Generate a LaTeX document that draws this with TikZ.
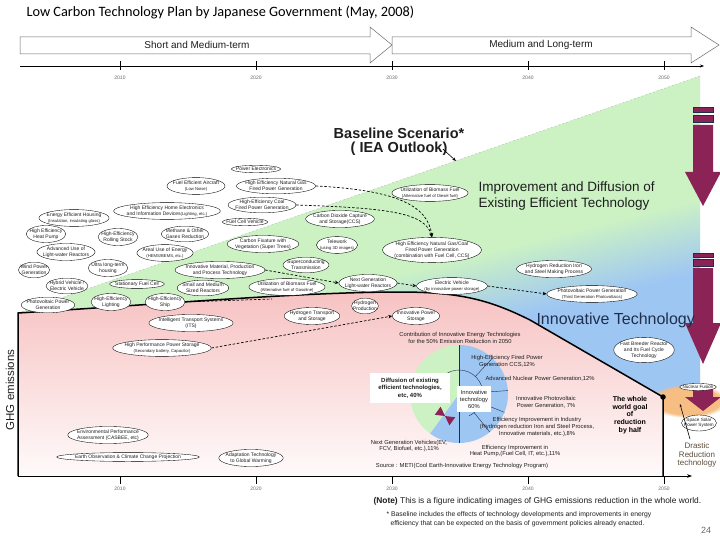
\documentclass[tikz,border=0pt]{standalone}
\usepackage{fontspec}
\setmainfont{Liberation Sans}
\newfontfamily\calibrilike{Carlito}
\usepackage{tikz}
\usetikzlibrary{shapes.geometric, arrows.meta, positioning, fadings}
\definecolor{LCGreen}{RGB}{204, 242, 196}
\definecolor{LCBlue}{RGB}{158, 198, 243}
\definecolor{LCPink}{RGB}{247, 194, 194}
\definecolor{LCMaroon}{RGB}{139, 35, 86}
\definecolor{LCOrange}{RGB}{247, 190, 132}
\definecolor{LCText}{RGB}{30, 30, 30}
\definecolor{LCGray}{RGB}{105, 105, 105}
\definecolor{LCNavy}{RGB}{32, 46, 78}
\definecolor{LCBrown}{RGB}{95, 78, 60}
\pgfdeclareverticalshading{LCGreenBlue}{100bp}{color(0bp)=(LCBlue); color(48.5bp)=(LCBlue); color(51.5bp)=(LCGreen); color(100bp)=(LCGreen)}
\newcommand{\lcsmall}{\fontsize{4.2}{5}\selectfont}

\begin{document}
\begin{tikzpicture}[x=1pt, y=-1pt,
  tech/.style={ellipse, draw=black, line width=0.35pt, fill=white, inner xsep=-2.5pt, inner ysep=0.8pt, align=center, text=LCText, font=\fontsize{5}{5.8}\selectfont},
  link/.style={line width=0.7pt, dash pattern=on 2.5pt off 1.8pt, -{Stealth[length=4pt, width=3.5pt]}},
  period/.style={fill=white, draw=LCGray, line width=0.5pt},
  yearlbl/.style={font=\fontsize{5}{6}\selectfont, text=LCGray},
  pielbl/.style={font=\fontsize{5.8}{6.8}\selectfont, text=LCText, align=center},
  whitebox/.style={fill=white, inner sep=1pt, align=center, text=LCText}]
  \path[use as bounding box] (0,0) rectangle (720,540);
  \fill[white] (0,0) rectangle (720,540);

  % title and the two periods
  \node[anchor=west, font=\calibrilike\fontsize{14.3}{16}\selectfont] (title) at (23,13) {Low Carbon Technology Plan by Japanese Government (May, 2008)};
  \draw[period] (20,37) -- (370,37) -- (370,27) -- (392,45) -- (370,63) -- (370,54) -- (20,54) -- cycle;
  \draw[period] (392,37) -- (691,37) -- (691,27) -- (719,45) -- (691,63) -- (691,54) -- (392,54) -- cycle;
  \node[font=\fontsize{10}{11}\selectfont, text=LCText] (shortterm) at (197,45) {Short and Medium-term};
  \node[font=\fontsize{10}{11}\selectfont, text=LCText] (longterm) at (541,45) {Medium and Long-term};

  % existing / innovative wedge
  \begin{scope}
    \clip (18,313) -- (700,76) -- (700,397) -- (663,397) -- (530,320) .. controls (490,300) and (460,292) .. (400,292) .. controls (300,292) and (150,305) .. (18,313) -- cycle;
    \shade[shading=LCGreenBlue, shading angle=14] (-20,-335) rectangle (1180,865);
  \end{scope}
  \draw[LCGreen!60!gray, line width=0.4pt, dash pattern=on 2pt off 2pt] (18,313) -- (700,76);
  \fill[LCOrange, path fading=circle with fuzzy edge 20 percent] (688,401) ellipse (40 and 17);
  % emissions below the curve
  \shade[top color=LCPink, bottom color=LCPink!8!white] (18,313) .. controls (150,305) and (300,292) .. (400,292) .. controls (460,292) and (490,300) .. (530,320) -- (663,397) -- (663,476) -- (18,476) -- cycle;
  \node[circle, fill=black, inner sep=0pt, minimum size=5.5pt] (goal) at (663,397) {};
  \draw[line width=1.5pt] (18,476) -- (18,313) .. controls (150,305) and (300,292) .. (400,292) .. controls (460,292) and (490,300) .. (530,320) -- (goal.center) -- (663,476);

  % time axes
  \draw[line width=0.6pt, -{Stealth[length=4pt]}] (20,66) -- (704,66);
  \draw[line width=1pt, -{Stealth[length=5pt]}] (18,476) -- (692,476);
  \foreach \x/\yr in {120/2010, 256/2020, 392/2030, 528/2040, 664/2050}{
    \draw[line width=0.5pt] (\x,61) -- (\x,70);
    \node[yearlbl] (top\yr) at (\x,78) {\yr};
    \draw[line width=0.6pt] (\x,476) -- (\x,484);
    \node[yearlbl] (bot\yr) at (\x,489) {\yr};
  }
  \node[rotate=90, font=\fontsize{11.5}{13}\selectfont, text=LCText] (ghg) at (10,390) {GHG emissions};

  % reduction arrows on the right
  \foreach \a/\b in {107/112, 115/122, 253/257, 259/266}{
    \filldraw[fill=LCMaroon, draw=LCNavy, line width=0.5pt] (693,\a) rectangle (713,\b);
  }
  \foreach \top/\hs/\tip in {125/172/206, 268/323/364, 386/397/411}{
    \fill[LCMaroon] (693,\top) -- (713,\top) -- (713,\hs) -- (721,\hs) -- (703,\tip) -- (685,\hs) -- (693,\hs) -- cycle;
  }

  % technologies
  \node[tech] (pe) at (256,169) {Power Electronics};
  \node[tech] (fea) at (196,186) {Fuel Efficient Aircraft\\{\lcsmall(Low Noise)}};
  \node[tech] (ngas) at (276,186) {High Efficiency Natural Gas\\Fired Power Generation};
  \node[tech] (biod) at (430,193) {Utilization of Biomass Fuel\\{\lcsmall(Alternative fuel of Diesel fuel)}};
  \node[tech] (home) at (167,211) {High Efficiency Home Electronics\\and Information Devices{\lcsmall(Lighting, etc.)}};
  \node[tech] (coal) at (262,205) {High-Efficiency Coal\\Fired Power Generation};
  \node[tech] (house) at (74,218) {Energy Efficient Housing\\{\lcsmall(Insulation, insulating glass)}};
  \node[tech] (fcv) at (245,222) {Fuel Cell Vehicle};
  \node[tech] (ccs) at (340,219) {Carbon Dioxide Capture\\and Storage(CCS)};
  \node[tech] (heat) at (46,234) {High Efficiency\\Heat Pump};
  \node[tech] (rail) at (118,237) {High-Efficiency\\Rolling Stock};
  \node[tech] (meth) at (185,234) {Methane \& Other\\Gases Reduction};
  \node[tech] (lwr) at (66,252) {Advanced Use of\\Light-water Reactors};
  \node[tech] (areal) at (165,253) {Areal Use of Energy\\{\lcsmall(HEMS/BEMS, etc.)}};
  \node[tech] (tree) at (263,244) {Carbon Fixature with\\Vegetation (Super Trees)};
  \node[tech] (telew) at (337,245) {Telework\\{\lcsmall(using 3D images)}};
  \node[tech] (ngcc) at (432,250) {High Efficiency Natural Gas/Coal\\Fired Power Generation\\(combination with Fuel Cell, CCS)};
  \node[tech] (wind) at (34,270) {Wind Power\\Generation};
  \node[tech] (ultra) at (108,268) {Ultra long-term\\housing};
  \node[tech] (mat) at (220,270) {Innovative Material, Production\\and Process Technology};
  \node[tech] (supc) at (306,265) {Superconducting\\Transmission};
  \node[tech] (h2iron) at (554,269) {Hydrogen Reduction Iron\\and Steel Making Process};
  \node[tech] (hev) at (67,286) {Hybrid Vehicle /\\Electric Vehicle};
  \node[tech] (sfc) at (137,284) {Stationary Fuel Cell};
  \node[tech] (smr) at (203,288) {Small and Medium\\Sized Reactors};
  \node[tech] (biog) at (287,287) {Utilization of Biomass Fuel\\{\lcsmall(Alternative fuel of Gasoline)}};
  \node[tech] (nglwr) at (368,283) {Next Generation\\Light-water Reactors};
  \node[tech] (ev) at (452,286) {Electric Vehicle\\{\lcsmall(by innovative power storage)}};
  \node[tech] (pv3) at (592,294) {Photovoltaic Power Generation\\{\lcsmall(Third Generation Photovoltaics)}};
  \node[tech] (pv) at (48,305) {Photovoltaic Power\\Generation};
  \node[tech] (light) at (111,302) {High-Efficiency\\Lighting};
  \node[tech] (ship) at (165,302) {High-Efficiency\\Ship};
  \node[tech] (its) at (191,323) {Intelligent Transport Systems\\(ITS)};
  \node[tech] (hpps) at (162,348) {High Performance Power Storage\\{\lcsmall(Secondary battery, Capacitor)}};
  \node[tech] (h2ts) at (312,316) {Hydrogen Transport\\and Storage};
  \node[tech] (h2p) at (365,306) {Hydrogen\\Production};
  \node[tech] (ips) at (416,316) {Innovative Power\\Storage};
  \node[tech] (fbr) at (644,350) {Fast Breeder Reactor\\and Its Fuel Cycle\\Technology};
  \node[tech, font=\fontsize{4.6}{5.4}\selectfont] (fus) at (698,387) {Nuclear Fusion};
  \node[tech, font=\fontsize{4.6}{5.4}\selectfont] (ssp) at (699,423) {Space Solar\\Power System};
  \node[tech] (env) at (108,435) {Environmental Performance\\Assessment (CASBEE, etc)};
  \node[tech] (eo) at (128,457) {Earth Observation \& Climate Change Projection};
  \node[tech] (adapt) at (251,458) {Adaptation Technology\\to Global Warming};

  % connections
  \coordinate (shipend) at (272,299);
  \draw[link] (ngas.east) .. controls (395,190) and (428,205) .. (ngcc.north);
  \draw[link] (coal.east) .. controls (385,208) and (425,212) .. (ngcc.north);
  \draw[link] (mat.east) -- (nglwr.west);
  \draw[link] (nglwr.east) -- (ev.west);
  \draw[link] (ev.east) -- (pv3.west);
  \draw[link, -] (ship.east) -- (shipend);
  \draw[link] (hpps.east) -- (ips.west);

  % headings
  \node[align=center, font=\bfseries\fontsize{14.5}{14.5}\selectfont, text=LCText] (baseline) at (399,142) {Baseline Scenario*\\( IEA Outlook)};
  \coordinate (basept) at (456,161);
  \draw[line width=0.6pt, -{Stealth[length=4pt]}] ([xshift=-25pt, yshift=-7pt]baseline.east) -- (basept);
  \node[anchor=west, align=left, font=\fontsize{13.5}{16.5}\selectfont, text=LCText] (improve) at (475,196) {Improvement and Diffusion of\\Existing Efficient Technology};
  \node[anchor=west, font=\fontsize{16}{18}\selectfont, text=LCNavy] (innovtech) at (533,320) {Innovative Technology};

  % contribution pie
  \coordinate (pc) at (459,394);
  \fill[LCGreen] (pc) -- ++(-90:49) arc[start angle=-90, end angle=-234, radius=49] -- cycle;
  \fill[LCBlue] (pc) -- ++(-90:49) arc[start angle=-90, end angle=126, radius=49] -- cycle;
  \draw[LCNavy, line width=0.4pt] (pc) -- ++(-90:49);
  \draw[LCNavy, line width=0.4pt] (pc) -- ++(90:49);
  \foreach \a in {-47,-4,22,51}{
    \draw[LCNavy, line width=0.4pt] (pc) ++(\a:24) -- ++(\a:25);
  }
  \draw[LCNavy, line width=0.4pt] (pc) ++(-145:24) arc[start angle=-145, end angle=65, radius=24];
  \fill[LCMaroon] (445,416) -- (440.6,406.7) -- (434.8,414.8) -- cycle;
  \fill[LCMaroon] (445,416) -- (455.2,417.3) -- (449.4,425.4) -- cycle;
  \node[pielbl] (contrib) at (460,338) {Contribution of Innovative Energy Technologies\\for the 50\% Emission Reduction in 2050};
  \node[pielbl] (firedlbl) at (507,361) {High-Efficiency Fired Power\\Generation CCS,12\%};
  \node[pielbl, anchor=west] (nuclbl) at (482,379) {Advanced Nuclear Power Generation,12\%};
  \node[pielbl] (pvlbl) at (546,402) {Innovative Photovoltaic\\Power Generation, 7\%};
  \node[pielbl] (indlbl) at (537,427) {Efficiency Improvement in Industry\\(Hydrogen reduction Iron and Steel Process,\\Innovative materials, etc.),8\%};
  \node[pielbl] (heatlbl) at (515,451) {Efficiency Improvement in\\Heat Pump,(Fuel Cell, IT, etc.),11\%};
  \node[pielbl] (vehlbl) at (409,446) {Next Generation Vehicles(EV,\\FCV, Biofuel, etc.),11\%};
  \node[pielbl] (source) at (462,466) {Source : METI(Cool Earth-Innovative Energy Technology Program)};
  \node[whitebox, minimum width=80pt, minimum height=30pt, font=\bfseries\fontsize{6}{7.4}\selectfont] (existbox) at (410,388) {Diffusion of existing\\efficient technologies,\\etc, 40\%};
  \node[whitebox, minimum width=34pt, minimum height=26pt, font=\fontsize{5.8}{7}\selectfont] (innovbox) at (474,399) {Innovative\\technology\\60\%};

  % goal and drastic reduction
  \node[align=center, font=\bfseries\fontsize{7}{7.6}\selectfont, text=black] (goaltxt) at (630,415) {The whole\\world goal\\of\\reduction\\by half};
  \node[align=center, font=\fontsize{8}{8.6}\selectfont, text=LCBrown] (drastic) at (697,455) {Drastic\\Reduction\\technology};
  \coordinate (glow) at (680,404);
  \draw[line width=0.6pt, -{Stealth[length=3pt]}] ([xshift=-7pt]drastic.north) -- (glow);

  % notes
  \node[anchor=west, font=\fontsize{8.4}{9}\selectfont, text=LCText] (note) at (370,501) {\textbf{(Note)} This is a figure indicating images of GHG emissions reduction in the whole world.};
  \node[anchor=north west, align=left, font=\fontsize{6.8}{8.8}\selectfont, text=LCText] (footnote) at (383,508) {* Baseline includes the effects of technology developments and improvements in energy\\\hspace*{4pt}efficiency that can be expected on the basis of government policies already enacted.};
  \node[font=\fontsize{9}{10}\selectfont, text=LCGray] (pagenum) at (706,530) {24};
\end{tikzpicture}
\end{document}
